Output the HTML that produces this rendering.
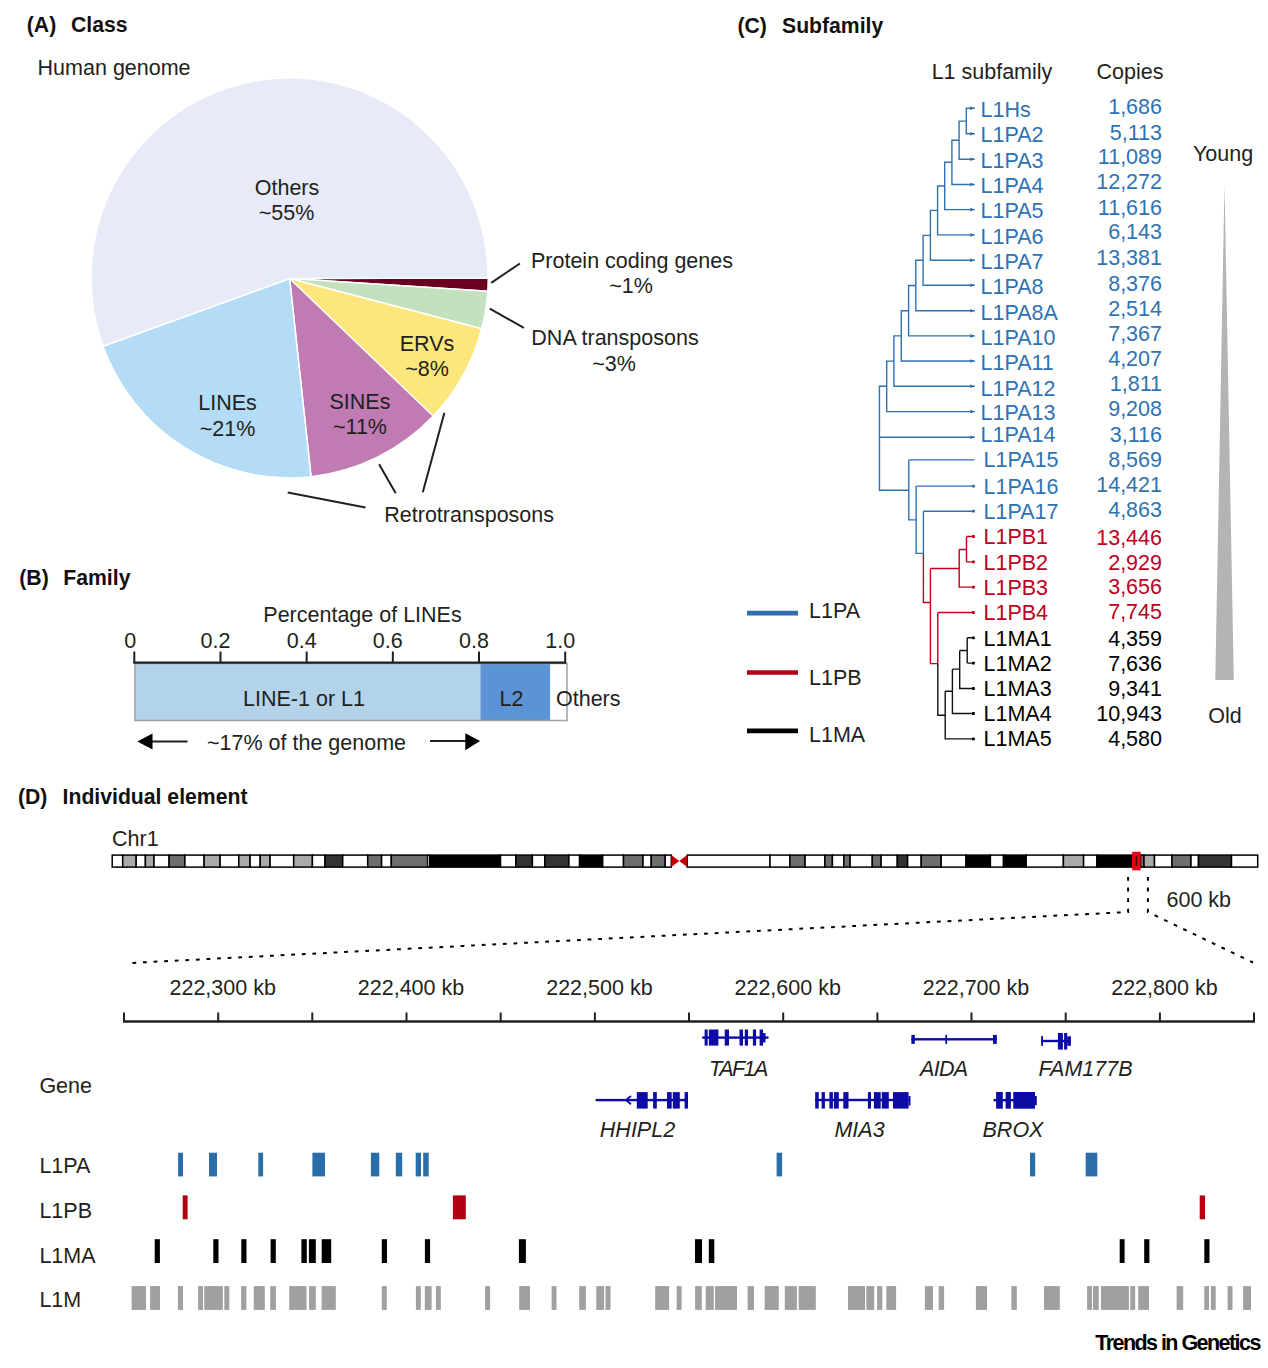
<!DOCTYPE html>
<html><head><meta charset="utf-8"><style>
html,body{margin:0;padding:0;background:#fff;}
svg{display:block;}
text{font-family:"Liberation Sans",sans-serif;}
</style></head><body>
<svg width="1268" height="1368" viewBox="0 0 1268 1368">
<rect width="1268" height="1368" fill="#fff"/><g font-size="21.5" fill="#231f20">
<text x="26.8" y="32.3" font-weight="bold" fill="#111" font-size="21.2">(A)</text>
<text x="71" y="32.3" font-weight="bold" fill="#111" font-size="21.2">Class</text>
<text x="37.6" y="74.8">Human genome</text>
<path d="M289.6,278.5 L488.20,277.90 A198.6,200 0 0 1 487.75,291.33 Z" fill="#6b0021" stroke="#fff" stroke-width="1.5" stroke-linejoin="round"/>
<path d="M289.6,278.5 L487.75,291.33 A198.6,200 0 0 1 481.70,328.65 Z" fill="#c3e1bf" stroke="#fff" stroke-width="1.5" stroke-linejoin="round"/>
<path d="M289.6,278.5 L481.70,328.65 A198.6,200 0 0 1 432.70,416.58 Z" fill="#fde67b" stroke="#fff" stroke-width="1.5" stroke-linejoin="round"/>
<path d="M289.6,278.5 L433.18,416.08 A198.6,200 0 0 1 311.05,476.73 Z" fill="#c07bb3" stroke="#fff" stroke-width="1.5" stroke-linejoin="round"/>
<path d="M289.6,278.5 L311.05,476.73 A198.6,200 0 0 1 102.98,346.30 Z" fill="#b4dcf6" stroke="#fff" stroke-width="1.5" stroke-linejoin="round"/>
<path d="M289.6,278.5 L102.98,346.30 A198.6,200 0 1 1 488.20,277.90 Z" fill="#e7eaf7" stroke="#fff" stroke-width="1.5" stroke-linejoin="round"/>
<text x="287" y="194.6" text-anchor="middle">Others</text>
<text x="286.5" y="219.9" text-anchor="middle">~55%</text>
<text x="227.5" y="409.6" text-anchor="middle">LINEs</text>
<text x="227.5" y="436.2" text-anchor="middle">~21%</text>
<text x="360" y="408.9" text-anchor="middle">SINEs</text>
<text x="360" y="433.7" text-anchor="middle">~11%</text>
<text x="427" y="351" text-anchor="middle">ERVs</text>
<text x="427" y="375.8" text-anchor="middle">~8%</text>
<line x1="491.2" y1="282.8" x2="519.9" y2="263.5" stroke="#231f20" stroke-width="2"/>
<line x1="489.8" y1="308.6" x2="523.9" y2="327.9" stroke="#231f20" stroke-width="2"/>
<text x="632" y="267.5" text-anchor="middle">Protein coding genes</text>
<text x="631" y="293" text-anchor="middle">~1%</text>
<text x="615" y="344.5" text-anchor="middle">DNA transposons</text>
<text x="614" y="370.8" text-anchor="middle">~3%</text>
<line x1="287.7" y1="492.6" x2="365.5" y2="507.5" stroke="#231f20" stroke-width="2"/>
<line x1="379.1" y1="464.2" x2="395.7" y2="493.3" stroke="#231f20" stroke-width="2"/>
<line x1="444.4" y1="412.8" x2="422.8" y2="492.3" stroke="#231f20" stroke-width="2"/>
<text x="384.3" y="521.5">Retrotransposons</text>
<text x="19.3" y="584.5" font-weight="bold" fill="#111" font-size="21.2">(B)</text>
<text x="63.3" y="584.5" font-weight="bold" fill="#111" font-size="21.2">Family</text>
<text x="362.5" y="622.2" text-anchor="middle">Percentage of LINEs</text>
<text x="130.3" y="647.5" text-anchor="middle">0</text>
<line x1="134.3" y1="651.5" x2="134.3" y2="663" stroke="#231f20" stroke-width="2"/>
<text x="215.5" y="647.5" text-anchor="middle">0.2</text>
<line x1="220.48000000000002" y1="651.5" x2="220.48000000000002" y2="663" stroke="#231f20" stroke-width="2"/>
<text x="301.7" y="647.5" text-anchor="middle">0.4</text>
<line x1="306.66" y1="651.5" x2="306.66" y2="663" stroke="#231f20" stroke-width="2"/>
<text x="387.8" y="647.5" text-anchor="middle">0.6</text>
<line x1="392.84000000000003" y1="651.5" x2="392.84000000000003" y2="663" stroke="#231f20" stroke-width="2"/>
<text x="474.0" y="647.5" text-anchor="middle">0.8</text>
<line x1="479.02000000000004" y1="651.5" x2="479.02000000000004" y2="663" stroke="#231f20" stroke-width="2"/>
<text x="560.2" y="647.5" text-anchor="middle">1.0</text>
<line x1="565.2" y1="651.5" x2="565.2" y2="663" stroke="#231f20" stroke-width="2"/>
<rect x="135.0" y="663.5" width="345.4" height="57.5" fill="#b3d3e8"/>
<rect x="480.4" y="663.5" width="69.7" height="57.5" fill="#5b93d4"/>
<rect x="135" y="663.5" width="432" height="57" fill="none" stroke="#a0a0a0" stroke-width="1.5"/>
<line x1="133.3" y1="662.6" x2="566.2" y2="662.6" stroke="#231f20" stroke-width="2.4"/>
<text x="304" y="705.6" text-anchor="middle">LINE-1 or L1</text>
<text x="511.5" y="705.6" text-anchor="middle">L2</text>
<text x="556" y="705.6">Others</text>
<line x1="152" y1="741.4" x2="187.5" y2="741.4" stroke="#231f20" stroke-width="2"/>
<path d="M137.4,741.4 L152.5,733.6 L152.5,749.6 Z" fill="#000"/>
<line x1="430" y1="741.1" x2="466" y2="741.1" stroke="#231f20" stroke-width="2"/>
<path d="M480.1,741.1 L465.3,733.2 L465.3,750.2 Z" fill="#000"/>
<text x="306.5" y="750.1" text-anchor="middle">~17% of the genome</text>
<text x="737.4" y="33.3" font-weight="bold" fill="#111" font-size="21.2">(C)</text>
<text x="782" y="33.3" font-weight="bold" fill="#111" font-size="21.2">Subfamily</text>
<text x="992" y="79.4" text-anchor="middle">L1 subfamily</text>
<text x="1130" y="79.4" text-anchor="middle">Copies</text>
<text x="1223" y="161" text-anchor="middle">Young</text>
<text x="1225" y="723.3" text-anchor="middle">Old</text>
<path d="M1224.5,184 L1233.8,680 L1215.3,680 Z" fill="#b4b4b4"/>
<text x="980.5" y="116.8" fill="#2f72b2">L1Hs</text>
<text x="1162" y="114.4" text-anchor="end" fill="#2f72b2">1,686</text>
<text x="980.5" y="142.1" fill="#2f72b2">L1PA2</text>
<text x="1162" y="139.7" text-anchor="end" fill="#2f72b2">5,113</text>
<text x="980.5" y="167.5" fill="#2f72b2">L1PA3</text>
<text x="1162" y="164.4" text-anchor="end" fill="#2f72b2">11,089</text>
<text x="980.5" y="192.8" fill="#2f72b2">L1PA4</text>
<text x="1162" y="189.2" text-anchor="end" fill="#2f72b2">12,272</text>
<text x="980.5" y="218.1" fill="#2f72b2">L1PA5</text>
<text x="1162" y="214.5" text-anchor="end" fill="#2f72b2">11,616</text>
<text x="980.5" y="243.5" fill="#2f72b2">L1PA6</text>
<text x="1162" y="239.2" text-anchor="end" fill="#2f72b2">6,143</text>
<text x="980.5" y="268.8" fill="#2f72b2">L1PA7</text>
<text x="1162" y="265.2" text-anchor="end" fill="#2f72b2">13,381</text>
<text x="980.5" y="294.1" fill="#2f72b2">L1PA8</text>
<text x="1162" y="290.5" text-anchor="end" fill="#2f72b2">8,376</text>
<text x="980.5" y="319.5" fill="#2f72b2">L1PA8A</text>
<text x="1162" y="315.9" text-anchor="end" fill="#2f72b2">2,514</text>
<text x="980.5" y="344.8" fill="#2f72b2">L1PA10</text>
<text x="1162" y="341.2" text-anchor="end" fill="#2f72b2">7,367</text>
<text x="980.5" y="370.1" fill="#2f72b2">L1PA11</text>
<text x="1162" y="365.9" text-anchor="end" fill="#2f72b2">4,207</text>
<text x="980.5" y="395.5" fill="#2f72b2">L1PA12</text>
<text x="1162" y="391.3" text-anchor="end" fill="#2f72b2">1,811</text>
<text x="980.5" y="419.6" fill="#2f72b2">L1PA13</text>
<text x="1162" y="416.3" text-anchor="end" fill="#2f72b2">9,208</text>
<text x="980.5" y="441.9" fill="#2f72b2">L1PA14</text>
<text x="1162" y="441.6" text-anchor="end" fill="#2f72b2">3,116</text>
<text x="983.5" y="466.6" fill="#2f72b2">L1PA15</text>
<text x="1162" y="466.6" text-anchor="end" fill="#2f72b2">8,569</text>
<text x="983.5" y="493.8" fill="#2f72b2">L1PA16</text>
<text x="1162" y="492.3" text-anchor="end" fill="#2f72b2">14,421</text>
<text x="983.5" y="519.1" fill="#2f72b2">L1PA17</text>
<text x="1162" y="517.3" text-anchor="end" fill="#2f72b2">4,863</text>
<text x="983.5" y="544.4" fill="#c0001c">L1PB1</text>
<text x="1162" y="544.9" text-anchor="end" fill="#c0001c">13,446</text>
<text x="983.5" y="569.9" fill="#c0001c">L1PB2</text>
<text x="1162" y="569.9" text-anchor="end" fill="#c0001c">2,929</text>
<text x="983.5" y="594.9" fill="#c0001c">L1PB3</text>
<text x="1162" y="594.2" text-anchor="end" fill="#c0001c">3,656</text>
<text x="983.5" y="619.9" fill="#c0001c">L1PB4</text>
<text x="1162" y="619.2" text-anchor="end" fill="#c0001c">7,745</text>
<text x="983.5" y="645.6" fill="#000">L1MA1</text>
<text x="1162" y="645.6" text-anchor="end" fill="#000">4,359</text>
<text x="983.5" y="670.6" fill="#000">L1MA2</text>
<text x="1162" y="671.2" text-anchor="end" fill="#000">7,636</text>
<text x="983.5" y="695.6" fill="#000">L1MA3</text>
<text x="1162" y="696.2" text-anchor="end" fill="#000">9,341</text>
<text x="983.5" y="721.3" fill="#000">L1MA4</text>
<text x="1162" y="721.2" text-anchor="end" fill="#000">10,943</text>
<text x="983.5" y="746.3" fill="#000">L1MA5</text>
<text x="1162" y="746.2" text-anchor="end" fill="#000">4,580</text>
<path d="M974.7,108.3 H966.3 V133.8 H974.7 M966.3,121.1 H959.1 V159.3 H974.7 M959.1,140.2 H951.9 V184.5 H974.7 M951.9,162.3 H944.7 V209.6 H974.7 M944.7,186.0 H937.6 V234.9 H974.7 M937.6,210.4 H930.4 V260.3 H974.7 M930.4,235.4 H923.1 V285.3 H974.7 M923.1,260.3 H915.8 V310.7 H974.7 M915.8,285.5 H908.6 V335.9 H974.7 M908.6,310.7 H901.3 V361.0 H974.7 M901.3,335.9 H893.9 V386.3 H974.7 M893.9,361.1 H886.7 V411.6 H974.7 M886.7,386.3 H879.45 V490.2 H908.8 M879.45,437.3 H974.7 M908.8,459.9 H974.7 M908.8,459.9 V519.9 H916.1 M916.1,486.1 H974.7 M916.1,486.1 V553.4 H923.4 M923.4,511.2 H974.7 M923.4,511.2 V553.4 " fill="none" stroke="#2f72b2" stroke-width="1.4"/>
<path d="M923.4,553.4 V602.5 H930.4 M930.4,568.5 V663.6 H937.8 M930.4,568.5 H959.2 M959.2,549.5 V587.1 H974.7 M959.2,549.5 H966.5 M966.5,536.5 V561.9 M966.5,536.5 H974.7 M966.5,561.9 H974.7 M937.8,612.5 H974.7 M937.8,612.5 V663.6" fill="none" stroke="#c0001c" stroke-width="1.4"/>
<path d="M937.8,663.6 V715.2 H945.2 M945.2,691.3 V738.9 H974.7 M945.2,691.3 H952.4 M952.4,669.1 V713.5 H974.7 M952.4,669.1 H959.7 M959.7,650.5 V688.5 H974.7 M959.7,650.5 H967.2 M967.2,637.8 V663.1 M967.2,637.8 H974.7 M967.2,663.1 H974.7" fill="none" stroke="#111" stroke-width="1.4"/>
<path d="M970.2,106.5 L975.0,108.3 L970.2,110.1 Z" fill="#2f72b2"/>
<path d="M970.2,132.0 L975.0,133.8 L970.2,135.6 Z" fill="#2f72b2"/>
<path d="M970.2,157.5 L975.0,159.3 L970.2,161.1 Z" fill="#2f72b2"/>
<path d="M970.2,182.7 L975.0,184.5 L970.2,186.3 Z" fill="#2f72b2"/>
<path d="M970.2,207.8 L975.0,209.6 L970.2,211.4 Z" fill="#2f72b2"/>
<path d="M970.2,233.1 L975.0,234.9 L970.2,236.7 Z" fill="#2f72b2"/>
<path d="M970.2,258.5 L975.0,260.3 L970.2,262.1 Z" fill="#2f72b2"/>
<path d="M970.2,283.5 L975.0,285.3 L970.2,287.1 Z" fill="#2f72b2"/>
<path d="M970.2,308.9 L975.0,310.7 L970.2,312.5 Z" fill="#2f72b2"/>
<path d="M970.2,334.1 L975.0,335.9 L970.2,337.7 Z" fill="#2f72b2"/>
<path d="M970.2,359.2 L975.0,361.0 L970.2,362.8 Z" fill="#2f72b2"/>
<path d="M970.2,384.5 L975.0,386.3 L970.2,388.1 Z" fill="#2f72b2"/>
<path d="M970.2,409.8 L975.0,411.6 L970.2,413.4 Z" fill="#2f72b2"/>
<path d="M970.2,435.5 L975.0,437.3 L970.2,439.1 Z" fill="#2f72b2"/>
<rect x="972.0" y="484.7" width="2.8" height="2.8" rx="0.6" fill="#2f72b2"/>
<rect x="972.0" y="509.8" width="2.8" height="2.8" rx="0.6" fill="#2f72b2"/>
<rect x="972.0" y="535.1" width="2.8" height="2.8" rx="0.6" fill="#c0001c"/>
<rect x="972.0" y="560.5" width="2.8" height="2.8" rx="0.6" fill="#c0001c"/>
<rect x="972.0" y="585.7" width="2.8" height="2.8" rx="0.6" fill="#c0001c"/>
<rect x="972.0" y="611.1" width="2.8" height="2.8" rx="0.6" fill="#c0001c"/>
<rect x="972.0" y="636.4" width="2.8" height="2.8" rx="0.6" fill="#000"/>
<rect x="972.0" y="661.7" width="2.8" height="2.8" rx="0.6" fill="#000"/>
<rect x="972.0" y="687.1" width="2.8" height="2.8" rx="0.6" fill="#000"/>
<rect x="972.0" y="712.1" width="2.8" height="2.8" rx="0.6" fill="#000"/>
<rect x="972.0" y="737.5" width="2.8" height="2.8" rx="0.6" fill="#000"/>
<line x1="747" y1="613.1" x2="798" y2="613.1" stroke="#2f6fae" stroke-width="4.7"/>
<line x1="747" y1="672.5" x2="798" y2="672.5" stroke="#b00012" stroke-width="4.7"/>
<line x1="747" y1="730.9" x2="798" y2="730.9" stroke="#000" stroke-width="4.7"/>
<text x="809" y="618.3">L1PA</text>
<text x="809" y="684.6">L1PB</text>
<text x="809" y="742.1">L1MA</text>
<text x="18" y="803.7" font-weight="bold" fill="#111" font-size="21.2">(D)</text>
<text x="62.6" y="803.7" font-weight="bold" fill="#111" font-size="21.2">Individual element</text>
<text x="112" y="846.4">Chr1</text>
<rect x="112.2" y="855.1" width="10.5" height="12.0" fill="#ffffff" stroke="#000" stroke-width="1.5"/>
<rect x="122.7" y="855.1" width="13.5" height="12.0" fill="#aaaaaa" stroke="#000" stroke-width="1.5"/>
<rect x="136.2" y="855.1" width="9.2" height="12.0" fill="#ffffff" stroke="#000" stroke-width="1.5"/>
<rect x="145.4" y="855.1" width="8.6" height="12.0" fill="#aaaaaa" stroke="#000" stroke-width="1.5"/>
<rect x="154.0" y="855.1" width="15.1" height="12.0" fill="#ffffff" stroke="#000" stroke-width="1.5"/>
<rect x="169.1" y="855.1" width="15.8" height="12.0" fill="#6e6e6e" stroke="#000" stroke-width="1.5"/>
<rect x="184.9" y="855.1" width="19.2" height="12.0" fill="#ffffff" stroke="#000" stroke-width="1.5"/>
<rect x="204.1" y="855.1" width="16.0" height="12.0" fill="#aaaaaa" stroke="#000" stroke-width="1.5"/>
<rect x="220.1" y="855.1" width="18.7" height="12.0" fill="#ffffff" stroke="#000" stroke-width="1.5"/>
<rect x="238.8" y="855.1" width="11.3" height="12.0" fill="#aaaaaa" stroke="#000" stroke-width="1.5"/>
<rect x="250.1" y="855.1" width="10.1" height="12.0" fill="#ffffff" stroke="#000" stroke-width="1.5"/>
<rect x="260.2" y="855.1" width="9.9" height="12.0" fill="#aaaaaa" stroke="#000" stroke-width="1.5"/>
<rect x="270.1" y="855.1" width="23.6" height="12.0" fill="#ffffff" stroke="#000" stroke-width="1.5"/>
<rect x="293.7" y="855.1" width="18.7" height="12.0" fill="#aaaaaa" stroke="#000" stroke-width="1.5"/>
<rect x="312.4" y="855.1" width="12.6" height="12.0" fill="#ffffff" stroke="#000" stroke-width="1.5"/>
<rect x="325.0" y="855.1" width="17.7" height="12.0" fill="#333333" stroke="#000" stroke-width="1.5"/>
<rect x="342.7" y="855.1" width="25.0" height="12.0" fill="#ffffff" stroke="#000" stroke-width="1.5"/>
<rect x="367.7" y="855.1" width="13.9" height="12.0" fill="#6e6e6e" stroke="#000" stroke-width="1.5"/>
<rect x="381.6" y="855.1" width="9.7" height="12.0" fill="#ffffff" stroke="#000" stroke-width="1.5"/>
<rect x="391.3" y="855.1" width="36.3" height="12.0" fill="#6e6e6e" stroke="#000" stroke-width="1.5"/>
<rect x="428.6" y="855.1" width="71.9" height="12.0" fill="#000000" stroke="#000" stroke-width="1.5"/>
<rect x="500.5" y="855.1" width="15.3" height="12.0" fill="#ffffff" stroke="#000" stroke-width="1.5"/>
<rect x="515.8" y="855.1" width="16.6" height="12.0" fill="#333333" stroke="#000" stroke-width="1.5"/>
<rect x="532.4" y="855.1" width="12.4" height="12.0" fill="#ffffff" stroke="#000" stroke-width="1.5"/>
<rect x="544.8" y="855.1" width="24.1" height="12.0" fill="#333333" stroke="#000" stroke-width="1.5"/>
<rect x="568.9" y="855.1" width="10.7" height="12.0" fill="#ffffff" stroke="#000" stroke-width="1.5"/>
<rect x="579.6" y="855.1" width="23.1" height="12.0" fill="#000000" stroke="#000" stroke-width="1.5"/>
<rect x="602.7" y="855.1" width="20.8" height="12.0" fill="#ffffff" stroke="#000" stroke-width="1.5"/>
<rect x="623.5" y="855.1" width="19.5" height="12.0" fill="#6e6e6e" stroke="#000" stroke-width="1.5"/>
<rect x="643.0" y="855.1" width="8.2" height="12.0" fill="#ffffff" stroke="#000" stroke-width="1.5"/>
<rect x="651.2" y="855.1" width="14.0" height="12.0" fill="#6e6e6e" stroke="#000" stroke-width="1.5"/>
<rect x="665.2" y="855.1" width="6.1" height="12.0" fill="#ffffff" stroke="#000" stroke-width="1.5"/>
<rect x="687.2" y="855.1" width="82.8" height="12.0" fill="#ffffff" stroke="#000" stroke-width="1.5"/>
<rect x="770.0" y="855.1" width="19.9" height="12.0" fill="#ffffff" stroke="#000" stroke-width="1.5"/>
<rect x="789.9" y="855.1" width="15.2" height="12.0" fill="#6e6e6e" stroke="#000" stroke-width="1.5"/>
<rect x="805.1" y="855.1" width="19.8" height="12.0" fill="#ffffff" stroke="#000" stroke-width="1.5"/>
<rect x="824.9" y="855.1" width="7.5" height="12.0" fill="#6e6e6e" stroke="#000" stroke-width="1.5"/>
<rect x="832.4" y="855.1" width="11.4" height="12.0" fill="#ffffff" stroke="#000" stroke-width="1.5"/>
<rect x="843.8" y="855.1" width="6.3" height="12.0" fill="#6e6e6e" stroke="#000" stroke-width="1.5"/>
<rect x="850.1" y="855.1" width="22.2" height="12.0" fill="#ffffff" stroke="#000" stroke-width="1.5"/>
<rect x="872.3" y="855.1" width="8.8" height="12.0" fill="#6e6e6e" stroke="#000" stroke-width="1.5"/>
<rect x="881.1" y="855.1" width="16.2" height="12.0" fill="#ffffff" stroke="#000" stroke-width="1.5"/>
<rect x="897.3" y="855.1" width="10.3" height="12.0" fill="#333333" stroke="#000" stroke-width="1.5"/>
<rect x="907.6" y="855.1" width="13.6" height="12.0" fill="#ffffff" stroke="#000" stroke-width="1.5"/>
<rect x="921.2" y="855.1" width="20.0" height="12.0" fill="#6e6e6e" stroke="#000" stroke-width="1.5"/>
<rect x="941.2" y="855.1" width="24.8" height="12.0" fill="#ffffff" stroke="#000" stroke-width="1.5"/>
<rect x="966" y="855.1" width="24.4" height="12.0" fill="#000000" stroke="#000" stroke-width="1.5"/>
<rect x="990.4" y="855.1" width="13.1" height="12.0" fill="#ffffff" stroke="#000" stroke-width="1.5"/>
<rect x="1003.5" y="855.1" width="22.7" height="12.0" fill="#000000" stroke="#000" stroke-width="1.5"/>
<rect x="1026.2" y="855.1" width="37.2" height="12.0" fill="#ffffff" stroke="#000" stroke-width="1.5"/>
<rect x="1063.4" y="855.1" width="20.2" height="12.0" fill="#aaaaaa" stroke="#000" stroke-width="1.5"/>
<rect x="1083.6" y="855.1" width="13.3" height="12.0" fill="#ffffff" stroke="#000" stroke-width="1.5"/>
<rect x="1096.9" y="855.1" width="44.4" height="12.0" fill="#000000" stroke="#000" stroke-width="1.5"/>
<rect x="1140.5" y="855.1" width="3.5" height="12.0" fill="#6e6e6e" stroke="#000" stroke-width="1.5"/>
<rect x="1144" y="855.1" width="10.5" height="12.0" fill="#aaaaaa" stroke="#000" stroke-width="1.5"/>
<rect x="1154.5" y="855.1" width="17.5" height="12.0" fill="#ffffff" stroke="#000" stroke-width="1.5"/>
<rect x="1172" y="855.1" width="19.0" height="12.0" fill="#6e6e6e" stroke="#000" stroke-width="1.5"/>
<rect x="1191" y="855.1" width="7.5" height="12.0" fill="#ffffff" stroke="#000" stroke-width="1.5"/>
<rect x="1198.5" y="855.1" width="33.0" height="12.0" fill="#333333" stroke="#000" stroke-width="1.5"/>
<rect x="1231.5" y="855.1" width="26.2" height="12.0" fill="#ffffff" stroke="#000" stroke-width="1.5"/>
<rect x="427.9" y="856" width="0.9" height="10.2" fill="#d8d8d8"/>
<path d="M671.3,855.1 L679.3,861.1 L671.3,867.1 Z M687.2,855.1 L679.3,861.1 L687.2,867.1 Z" fill="#c00000"/>
<rect x="1132.8" y="852.4" width="7.2" height="17.4" fill="#e8000c" stroke="#f00010" stroke-width="1.2"/>
<line x1="1136.4" y1="856" x2="1136.4" y2="866" stroke="#400" stroke-width="1.3"/>
<path d="M1128.1,877 V912 L130,963" fill="none" stroke="#000" stroke-width="2" stroke-dasharray="3.8 6.8"/>
<path d="M1147.9,877 V912 L1253,962.5" fill="none" stroke="#000" stroke-width="2" stroke-dasharray="3.8 6.8"/>
<text x="1166.5" y="906.8">600 kb</text>
<line x1="123" y1="1021.5" x2="1255" y2="1021.5" stroke="#231f20" stroke-width="2.4"/>
<line x1="124.0" y1="1012.5" x2="124.0" y2="1021.3" stroke="#231f20" stroke-width="2"/>
<line x1="218.2" y1="1012.5" x2="218.2" y2="1021.3" stroke="#231f20" stroke-width="2"/>
<line x1="312.3" y1="1012.5" x2="312.3" y2="1021.3" stroke="#231f20" stroke-width="2"/>
<line x1="406.5" y1="1012.5" x2="406.5" y2="1021.3" stroke="#231f20" stroke-width="2"/>
<line x1="500.7" y1="1012.5" x2="500.7" y2="1021.3" stroke="#231f20" stroke-width="2"/>
<line x1="594.9" y1="1012.5" x2="594.9" y2="1021.3" stroke="#231f20" stroke-width="2"/>
<line x1="689.0" y1="1012.5" x2="689.0" y2="1021.3" stroke="#231f20" stroke-width="2"/>
<line x1="783.2" y1="1012.5" x2="783.2" y2="1021.3" stroke="#231f20" stroke-width="2"/>
<line x1="877.4" y1="1012.5" x2="877.4" y2="1021.3" stroke="#231f20" stroke-width="2"/>
<line x1="971.5" y1="1012.5" x2="971.5" y2="1021.3" stroke="#231f20" stroke-width="2"/>
<line x1="1065.7" y1="1012.5" x2="1065.7" y2="1021.3" stroke="#231f20" stroke-width="2"/>
<line x1="1159.9" y1="1012.5" x2="1159.9" y2="1021.3" stroke="#231f20" stroke-width="2"/>
<line x1="1254.0" y1="1012.5" x2="1254.0" y2="1021.3" stroke="#231f20" stroke-width="2"/>
<text x="222.7" y="995" text-anchor="middle">222,300 kb</text>
<text x="411.0" y="995" text-anchor="middle">222,400 kb</text>
<text x="599.4" y="995" text-anchor="middle">222,500 kb</text>
<text x="787.7" y="995" text-anchor="middle">222,600 kb</text>
<text x="976.0" y="995" text-anchor="middle">222,700 kb</text>
<text x="1164.4" y="995" text-anchor="middle">222,800 kb</text>
<rect x="702.2" y="1036.4" width="66.3" height="2.4" fill="#0d0aa6"/>
<rect x="704.6" y="1029.5" width="3.1" height="16.1" fill="#0d0aa6"/>
<rect x="708.9" y="1029.5" width="9.5" height="16.1" fill="#0d0aa6"/>
<rect x="724.7" y="1029.5" width="4.3" height="16.1" fill="#0d0aa6"/>
<rect x="739.5" y="1029.5" width="3.5" height="16.1" fill="#0d0aa6"/>
<rect x="744.8" y="1029.5" width="3.2" height="16.1" fill="#0d0aa6"/>
<rect x="752.9" y="1029.5" width="3.2" height="16.1" fill="#0d0aa6"/>
<rect x="759.6" y="1029.5" width="3.4" height="16.1" fill="#0d0aa6"/>
<rect x="763.0" y="1033.0" width="2.5" height="9.5" fill="#0d0aa6"/>
<rect x="911.4" y="1038.1" width="85.4" height="2.4" fill="#0d0aa6"/>
<rect x="911.4" y="1034.9" width="3.4" height="9.0" fill="#0d0aa6"/>
<rect x="945.3" y="1034.9" width="1.8" height="9.0" fill="#0d0aa6"/>
<rect x="993.0" y="1034.9" width="3.8" height="9.0" fill="#0d0aa6"/>
<rect x="1041.1" y="1039.8" width="26.9" height="2.4" fill="#0d0aa6"/>
<rect x="1057.9" y="1033.0" width="5.0" height="16.6" fill="#0d0aa6"/>
<rect x="1064.1" y="1033.0" width="3.1" height="16.6" fill="#0d0aa6"/>
<rect x="1041.1" y="1036.1" width="1.9" height="9.7" fill="#0d0aa6"/>
<rect x="1067.2" y="1036.3" width="3.7" height="9.5" fill="#0d0aa6"/>
<rect x="595.6" y="1098.9" width="92.4" height="2.4" fill="#0d0aa6"/>
<rect x="636.8" y="1092.1" width="10.9" height="16.5" fill="#0d0aa6"/>
<rect x="653.1" y="1092.1" width="3.7" height="16.5" fill="#0d0aa6"/>
<rect x="667.0" y="1092.1" width="4.7" height="16.5" fill="#0d0aa6"/>
<rect x="672.8" y="1092.1" width="7.0" height="16.5" fill="#0d0aa6"/>
<rect x="684.6" y="1092.1" width="3.4" height="16.5" fill="#0d0aa6"/>
<path d="M631,1096 L626,1100.1 L631,1104.2" fill="none" stroke="#0d0aa6" stroke-width="1.8"/>
<rect x="815.0" y="1098.8" width="95.0" height="2.4" fill="#0d0aa6"/>
<rect x="815.2" y="1092.1" width="3.5" height="16.5" fill="#0d0aa6"/>
<rect x="821.6" y="1092.1" width="3.3" height="16.5" fill="#0d0aa6"/>
<rect x="829.4" y="1092.1" width="3.5" height="16.5" fill="#0d0aa6"/>
<rect x="833.9" y="1092.1" width="4.9" height="16.5" fill="#0d0aa6"/>
<rect x="843.3" y="1092.1" width="5.2" height="16.5" fill="#0d0aa6"/>
<rect x="867.9" y="1092.1" width="3.1" height="16.5" fill="#0d0aa6"/>
<rect x="873.9" y="1092.1" width="6.8" height="16.5" fill="#0d0aa6"/>
<rect x="881.8" y="1092.1" width="7.0" height="16.5" fill="#0d0aa6"/>
<rect x="893.0" y="1092.1" width="15.6" height="16.5" fill="#0d0aa6"/>
<rect x="908.6" y="1096.0" width="1.9" height="9.5" fill="#0d0aa6"/>
<rect x="993.6" y="1099.0" width="41.4" height="2.4" fill="#0d0aa6"/>
<rect x="996.1" y="1092.0" width="6.7" height="16.7" fill="#0d0aa6"/>
<rect x="1005.6" y="1092.0" width="5.3" height="16.7" fill="#0d0aa6"/>
<rect x="1013.3" y="1092.0" width="21.7" height="16.7" fill="#0d0aa6"/>
<rect x="1035.0" y="1096.0" width="1.8" height="9.2" fill="#0d0aa6"/>
<text x="738" y="1076" text-anchor="middle" font-style="italic" letter-spacing="-1.5">TAF1A</text>
<text x="943.8" y="1076" text-anchor="middle" font-style="italic" letter-spacing="-0.7">AIDA</text>
<text x="1085.5" y="1076" text-anchor="middle" font-style="italic">FAM177B</text>
<text x="637.5" y="1136.8" text-anchor="middle" font-style="italic">HHIPL2</text>
<text x="859.5" y="1136.8" text-anchor="middle" font-style="italic">MIA3</text>
<text x="1013" y="1136.8" text-anchor="middle" font-style="italic">BROX</text>
<text x="39.4" y="1093.1">Gene</text>
<text x="39.4" y="1173.3">L1PA</text>
<text x="39.4" y="1217.8">L1PB</text>
<text x="39.4" y="1262.8">L1MA</text>
<text x="39.4" y="1306.5">L1M</text>
<rect x="178.1" y="1152.7" width="4.9" height="23.7" fill="#296ea9"/>
<rect x="209.0" y="1152.7" width="8.0" height="23.7" fill="#296ea9"/>
<rect x="258.3" y="1152.7" width="4.8" height="23.7" fill="#296ea9"/>
<rect x="312.4" y="1152.7" width="12.6" height="23.7" fill="#296ea9"/>
<rect x="370.9" y="1152.7" width="8.4" height="23.7" fill="#296ea9"/>
<rect x="395.8" y="1152.7" width="6.4" height="23.7" fill="#296ea9"/>
<rect x="415.7" y="1152.7" width="5.3" height="23.7" fill="#296ea9"/>
<rect x="423.2" y="1152.7" width="5.5" height="23.7" fill="#296ea9"/>
<rect x="776.6" y="1152.7" width="5.5" height="23.7" fill="#296ea9"/>
<rect x="1030.0" y="1152.7" width="5.2" height="23.7" fill="#296ea9"/>
<rect x="1085.7" y="1152.7" width="11.6" height="23.7" fill="#296ea9"/>
<rect x="182.7" y="1195.4" width="4.9" height="23.9" fill="#b00012"/>
<rect x="452.9" y="1195.4" width="12.9" height="23.9" fill="#b00012"/>
<rect x="1199.7" y="1195.4" width="5.3" height="23.9" fill="#b00012"/>
<rect x="154.7" y="1239.2" width="5.2" height="23.8" fill="#000"/>
<rect x="213.3" y="1239.2" width="5.2" height="23.8" fill="#000"/>
<rect x="241.3" y="1239.2" width="5.2" height="23.8" fill="#000"/>
<rect x="270.6" y="1239.2" width="5.2" height="23.8" fill="#000"/>
<rect x="301.4" y="1239.2" width="5.4" height="23.8" fill="#000"/>
<rect x="308.9" y="1239.2" width="6.9" height="23.8" fill="#000"/>
<rect x="321.7" y="1239.2" width="9.5" height="23.8" fill="#000"/>
<rect x="381.8" y="1239.2" width="5.2" height="23.8" fill="#000"/>
<rect x="424.9" y="1239.2" width="5.2" height="23.8" fill="#000"/>
<rect x="518.9" y="1239.2" width="7.0" height="23.8" fill="#000"/>
<rect x="695.0" y="1239.2" width="7.0" height="23.8" fill="#000"/>
<rect x="708.8" y="1239.2" width="5.5" height="23.8" fill="#000"/>
<rect x="1119.7" y="1239.2" width="4.9" height="23.8" fill="#000"/>
<rect x="1144.2" y="1239.2" width="5.2" height="23.8" fill="#000"/>
<rect x="1204.3" y="1239.2" width="5.2" height="23.8" fill="#000"/>
<rect x="131.6" y="1286.1" width="14.4" height="23.8" fill="#a0a0a0"/>
<rect x="150.1" y="1286.1" width="9.9" height="23.8" fill="#a0a0a0"/>
<rect x="177.9" y="1286.1" width="5.1" height="23.8" fill="#a0a0a0"/>
<rect x="198.1" y="1286.1" width="4.9" height="23.8" fill="#a0a0a0"/>
<rect x="204.2" y="1286.1" width="18.7" height="23.8" fill="#a0a0a0"/>
<rect x="224.3" y="1286.1" width="5.0" height="23.8" fill="#a0a0a0"/>
<rect x="241.1" y="1286.1" width="5.3" height="23.8" fill="#a0a0a0"/>
<rect x="253.7" y="1286.1" width="11.1" height="23.8" fill="#a0a0a0"/>
<rect x="270.2" y="1286.1" width="5.7" height="23.8" fill="#a0a0a0"/>
<rect x="289.2" y="1286.1" width="17.3" height="23.8" fill="#a0a0a0"/>
<rect x="309.1" y="1286.1" width="6.7" height="23.8" fill="#a0a0a0"/>
<rect x="321.6" y="1286.1" width="14.2" height="23.8" fill="#a0a0a0"/>
<rect x="381.8" y="1286.1" width="5.0" height="23.8" fill="#a0a0a0"/>
<rect x="415.9" y="1286.1" width="4.9" height="23.8" fill="#a0a0a0"/>
<rect x="424.8" y="1286.1" width="6.8" height="23.8" fill="#a0a0a0"/>
<rect x="435.9" y="1286.1" width="4.9" height="23.8" fill="#a0a0a0"/>
<rect x="485.1" y="1286.1" width="5.0" height="23.8" fill="#a0a0a0"/>
<rect x="519.2" y="1286.1" width="10.8" height="23.8" fill="#a0a0a0"/>
<rect x="551.6" y="1286.1" width="4.9" height="23.8" fill="#a0a0a0"/>
<rect x="579.2" y="1286.1" width="6.7" height="23.8" fill="#a0a0a0"/>
<rect x="596.3" y="1286.1" width="7.8" height="23.8" fill="#a0a0a0"/>
<rect x="605.5" y="1286.1" width="5.0" height="23.8" fill="#a0a0a0"/>
<rect x="655.2" y="1286.1" width="13.9" height="23.8" fill="#a0a0a0"/>
<rect x="676.6" y="1286.1" width="5.0" height="23.8" fill="#a0a0a0"/>
<rect x="695.1" y="1286.1" width="6.7" height="23.8" fill="#a0a0a0"/>
<rect x="705.7" y="1286.1" width="8.1" height="23.8" fill="#a0a0a0"/>
<rect x="715.0" y="1286.1" width="22.0" height="23.8" fill="#a0a0a0"/>
<rect x="747.6" y="1286.1" width="6.4" height="23.8" fill="#a0a0a0"/>
<rect x="764.6" y="1286.1" width="14.2" height="23.8" fill="#a0a0a0"/>
<rect x="784.8" y="1286.1" width="12.1" height="23.8" fill="#a0a0a0"/>
<rect x="798.7" y="1286.1" width="17.1" height="23.8" fill="#a0a0a0"/>
<rect x="848.0" y="1286.1" width="17.0" height="23.8" fill="#a0a0a0"/>
<rect x="866.3" y="1286.1" width="7.9" height="23.8" fill="#a0a0a0"/>
<rect x="877.1" y="1286.1" width="5.2" height="23.8" fill="#a0a0a0"/>
<rect x="886.3" y="1286.1" width="9.8" height="23.8" fill="#a0a0a0"/>
<rect x="924.9" y="1286.1" width="8.1" height="23.8" fill="#a0a0a0"/>
<rect x="938.7" y="1286.1" width="5.4" height="23.8" fill="#a0a0a0"/>
<rect x="975.9" y="1286.1" width="11.1" height="23.8" fill="#a0a0a0"/>
<rect x="1011.4" y="1286.1" width="5.4" height="23.8" fill="#a0a0a0"/>
<rect x="1044.0" y="1286.1" width="15.8" height="23.8" fill="#a0a0a0"/>
<rect x="1087.1" y="1286.1" width="4.9" height="23.8" fill="#a0a0a0"/>
<rect x="1093.0" y="1286.1" width="5.7" height="23.8" fill="#a0a0a0"/>
<rect x="1101.0" y="1286.1" width="27.9" height="23.8" fill="#a0a0a0"/>
<rect x="1130.3" y="1286.1" width="4.9" height="23.8" fill="#a0a0a0"/>
<rect x="1138.2" y="1286.1" width="10.8" height="23.8" fill="#a0a0a0"/>
<rect x="1176.6" y="1286.1" width="6.6" height="23.8" fill="#a0a0a0"/>
<rect x="1204.3" y="1286.1" width="4.7" height="23.8" fill="#a0a0a0"/>
<rect x="1210.9" y="1286.1" width="4.8" height="23.8" fill="#a0a0a0"/>
<rect x="1227.6" y="1286.1" width="4.9" height="23.8" fill="#a0a0a0"/>
<rect x="1243.1" y="1286.1" width="7.9" height="23.8" fill="#a0a0a0"/>
<text x="1259.8" y="1349.5" text-anchor="end" font-weight="bold" fill="#000" letter-spacing="-1.55">Trends in Genetics</text>
</g></svg>
</body></html>
